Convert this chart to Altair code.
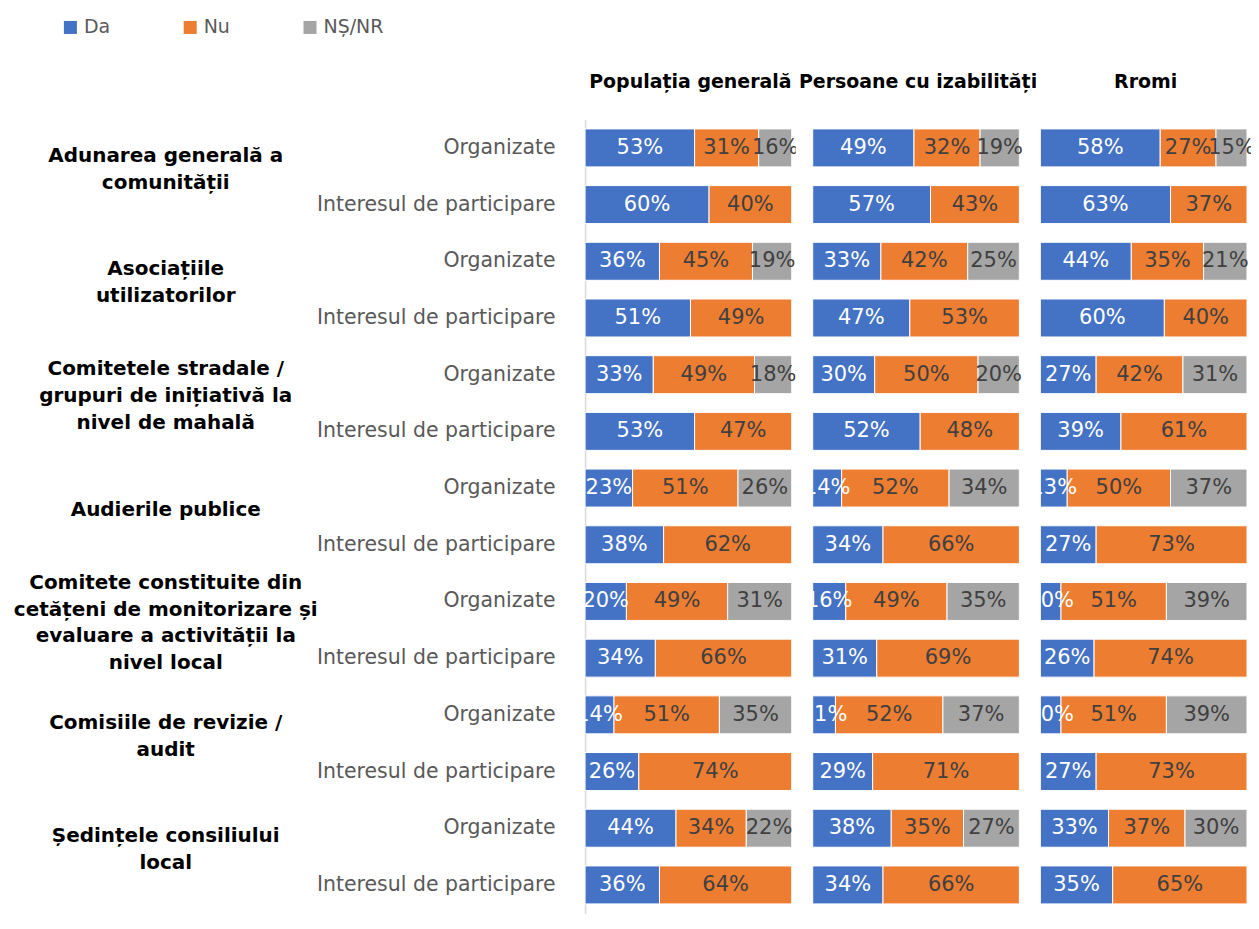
import altair as alt
import pandas as pd

responses = ["Da", "Nu", "NȘ/NR"]
colors = ["#4472C4", "#ED7D31", "#A5A5A5"]

groups = [
    "Adunarea generală a\ncomunității",
    "Asociațiile\nutilizatorilor",
    "Comitetele stradale /\ngrupuri de inițiativă la\nnivel de mahală",
    "Audierile publice",
    "Comitete constituite din\ncetățeni de monitorizare și\nevaluare a activității la\nnivel local",
    "Comisiile de revizie /\naudit",
    "Ședințele consiliului\nlocal",
]
subs = ["Organizate", "Interesul de participare"]

panels = ["Populația generală", "Persoane cu izabilități", "Rromi"]

# rows: for each group -> Organizate, Interesul de participare
pop_da = [53, 60, 36, 51, 33, 53, 23, 38, 20, 34, 14, 26, 44, 36]
pop_nu = [31, 40, 45, 49, 49, 47, 51, 62, 49, 66, 51, 74, 34, 64]
pop_ns = [16, 0, 19, 0, 18, 0, 26, 0, 31, 0, 35, 0, 22, 0]

dis_da = [49, 57, 33, 47, 30, 52, 14, 34, 16, 31, 11, 29, 38, 34]
dis_nu = [32, 43, 42, 53, 50, 48, 52, 66, 49, 69, 52, 71, 35, 66]
dis_ns = [19, 0, 25, 0, 20, 0, 34, 0, 35, 0, 37, 0, 27, 0]

rom_da = [58, 63, 44, 60, 27, 39, 13, 27, 10, 26, 10, 27, 33, 35]
rom_nu = [27, 37, 35, 40, 42, 61, 50, 73, 51, 74, 51, 73, 37, 65]
rom_ns = [15, 0, 21, 0, 31, 0, 37, 0, 39, 0, 39, 0, 30, 0]

keys = []
for gi in range(len(groups)):
    for s in subs:
        keys.append(f"{gi:02d}{s[0]}|{s}")

# one record per line of each group label
glines = []
for gi, g in enumerate(groups):
    parts = g.split("\n")
    for k, p in enumerate(parts):
        glines.append({"gi": gi, "k": k, "n": len(parts), "line": p})
group_df = pd.DataFrame(glines)

FONT = "DejaVu Sans"
PLOT_H = 795
NROWS = len(keys)
YSCALE = dict(domain=keys, paddingInner=0.33, paddingOuter=0.165)
PANEL_W = 211
XMAX = 100 * PANEL_W / 207  # bars fill 207px, a few px of room on the right for labels
LINE_UNITS = 27 / (PLOT_H / NROWS)  # group-label line height in row units


def make_panel(title, da, nu, ns, first):
    rows = []
    for k, a, b, c in zip(keys, da, nu, ns):
        for o, (r, v) in enumerate(zip(responses, [a, b, c])):
            rows.append({"key": k, "resp": r, "value": v, "ord": o})
    df = pd.DataFrame(rows)
    base = (
        alt.Chart(df)
        .transform_filter("datum.value > 0")
        .transform_stack(stack="value", groupby=["key"], as_=["x0", "x1"],
                         sort=[alt.SortField("ord", order="ascending")])
        .transform_calculate(mid="(datum.x0 + datum.x1) / 2", lbl="datum.value + '%'")
    )
    if first:
        yaxis = alt.Axis(
            title=None, ticks=False, domain=True, domainColor="#D9D9D9", domainWidth=1.5,
            labelExpr="split(datum.value, '|')[1]", labelFontSize=20.5, labelFont=FONT,
            labelColor="#595959", labelPadding=30, labelLimit=400, grid=False,
        )
    else:
        yaxis = None
    xs = alt.Scale(domain=[0, XMAX], nice=False, zero=True)
    yenc = alt.Y("key:N", sort=keys, scale=alt.Scale(**YSCALE), axis=yaxis)
    bars = base.mark_bar(stroke="white", strokeWidth=1).encode(
        x=alt.X("x0:Q", scale=xs, axis=None),
        x2="x1:Q",
        y=yenc,
        color=alt.Color(
            "resp:N",
            scale=alt.Scale(domain=responses, range=colors),
            sort=responses,
            legend=alt.Legend(
                title=None, orient="none", legendX=-525, legendY=-102, direction="horizontal",
                symbolType="square", symbolSize=170, symbolStrokeWidth=0,
                labelFontSize=19, labelFont=FONT, labelColor="#595959",
                columns=3, gridAlign="all", columnPadding=36, labelOffset=4,
            ),
        ),
    )
    text = base.mark_text(clip=True, fontSize=21, font=FONT).encode(
        x=alt.X("mid:Q", scale=xs, axis=None),
        y=yenc,
        text="lbl:N",
        color=alt.condition("datum.resp == 'Da'", alt.value("white"), alt.value("#404040")),
    )
    chart = alt.layer(bars, text)
    if first:
        gtext = (
            alt.Chart(group_df)
            .transform_calculate(
                pos=f"2 * datum.gi + 1 - 0.12 + (datum.k - (datum.n - 1) / 2) * {LINE_UNITS}"
            )
            .mark_text(font=FONT, fontSize=20, fontWeight="bold", color="black",
                       align="center", baseline="middle")
            .encode(
                x=alt.value(-420),
                y=alt.Y("pos:Q", scale=alt.Scale(domain=[NROWS, 0], nice=False, zero=False), axis=None),
                text="line:N",
            )
        )
        chart = alt.layer(chart, gtext).resolve_scale(y="independent")
    return chart.properties(
        width=PANEL_W, height=PLOT_H,
        title=alt.TitleParams(title, fontSize=19, font=FONT, fontWeight="bold",
                              anchor="middle", offset=28, color="black"),
    )


chart = alt.hconcat(
    make_panel(panels[0], pop_da, pop_nu, pop_ns, True),
    make_panel(panels[1], dis_da, dis_nu, dis_ns, False),
    make_panel(panels[2], rom_da, rom_nu, rom_ns, False),
    spacing=228 - PANEL_W,
    bounds="flush",
).configure_view(stroke=None).properties(padding={"left": 5, "top": 9, "right": 0, "bottom": 0})

chart.save("out.html", embed_options={"renderer": "svg", "actions": False})
